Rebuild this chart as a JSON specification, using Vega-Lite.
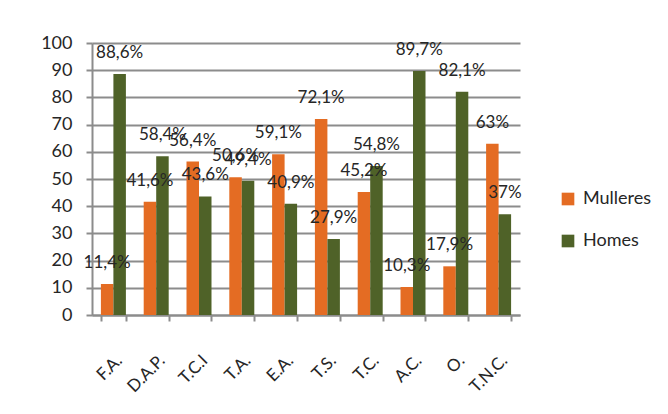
{
  "$schema": "https://vega.github.io/schema/vega-lite/v6.json",
  "autosize": "none",
  "width": 428,
  "height": 272,
  "padding": {"left": 92, "top": 43, "right": 148, "bottom": 99},
  "background": "white",
  "data": {"values": [
    {"cat": "F.A.", "serie": "Mulleres", "value": 11.4, "label": "11,4%"},
    {"cat": "F.A.", "serie": "Homes", "value": 88.6, "label": "88,6%"},
    {"cat": "D.A.P.", "serie": "Mulleres", "value": 41.6, "label": "41,6%"},
    {"cat": "D.A.P.", "serie": "Homes", "value": 58.4, "label": "58,4%"},
    {"cat": "T.C.I", "serie": "Mulleres", "value": 56.4, "label": "56,4%"},
    {"cat": "T.C.I", "serie": "Homes", "value": 43.6, "label": "43,6%"},
    {"cat": "T.A.", "serie": "Mulleres", "value": 50.6, "label": "50,6%"},
    {"cat": "T.A.", "serie": "Homes", "value": 49.4, "label": "49,4%"},
    {"cat": "E.A.", "serie": "Mulleres", "value": 59.1, "label": "59,1%"},
    {"cat": "E.A.", "serie": "Homes", "value": 40.9, "label": "40,9%"},
    {"cat": "T.S.", "serie": "Mulleres", "value": 72.1, "label": "72,1%"},
    {"cat": "T.S.", "serie": "Homes", "value": 27.9, "label": "27,9%"},
    {"cat": "T.C.", "serie": "Mulleres", "value": 45.2, "label": "45,2%"},
    {"cat": "T.C.", "serie": "Homes", "value": 54.8, "label": "54,8%"},
    {"cat": "A.C.", "serie": "Mulleres", "value": 10.3, "label": "10,3%"},
    {"cat": "A.C.", "serie": "Homes", "value": 89.7, "label": "89,7%"},
    {"cat": "O.", "serie": "Mulleres", "value": 17.9, "label": "17,9%"},
    {"cat": "O.", "serie": "Homes", "value": 82.1, "label": "82,1%"},
    {"cat": "T.N.C.", "serie": "Mulleres", "value": 63, "label": "63%"},
    {"cat": "T.N.C.", "serie": "Homes", "value": 37, "label": "37%"}
  ]},
  "encoding": {
    "x": {
      "field": "cat", "type": "nominal", "sort": null,
      "scale": {"paddingInner": 0.416, "paddingOuter": 0.208},
      "axis": {
        "title": null, "labelAngle": -45, "labelFont": "Lato", "labelFontSize": 17,
        "labelColor": "#262626", "labelPadding": 31, "tickBand": "extent",
        "domainColor": "#8c8c8c", "domainWidth": 2, "tickColor": "#8c8c8c",
        "tickWidth": 2, "tickSize": 6, "grid": false
      }
    },
    "xOffset": {"field": "serie", "type": "nominal", "sort": ["Mulleres", "Homes"], "scale": {"paddingInner": 0, "paddingOuter": 0}},
    "y": {
      "field": "value", "type": "quantitative",
      "scale": {"domain": [0, 100], "nice": false},
      "axis": {
        "title": null, "values": [0, 10, 20, 30, 40, 50, 60, 70, 80, 90, 100],
        "labelFont": "Lato", "labelFontSize": 18, "labelColor": "#262626",
        "labelPadding": 14, "tickSize": 6, "tickColor": "#8c8c8c", "tickWidth": 2,
        "domainColor": "#8c8c8c", "domainWidth": 2,
        "grid": true, "gridColor": "#8c8c8c", "gridWidth": 2
      }
    }
  },
  "layer": [
    {
      "mark": {"type": "bar"},
      "encoding": {
        "color": {
          "field": "serie", "type": "nominal",
          "scale": {"domain": ["Mulleres", "Homes"], "range": ["#E46C23", "#4F6228"]},
          "legend": {
            "title": null, "orient": "none", "legendX": 467, "legendY": 147,
            "symbolType": "square", "symbolSize": 160, "symbolStrokeWidth": 0,
            "labelFont": "Lato", "labelFontSize": 18, "labelColor": "#262626",
            "rowPadding": 24, "labelOffset": 6
          }
        }
      }
    },
    {
      "mark": {"type": "text", "dy": -21, "font": "Lato", "fontSize": 17, "color": "#262626"},
      "encoding": {"text": {"field": "label"}}
    }
  ],
  "config": {"view": {"stroke": null}}
}
